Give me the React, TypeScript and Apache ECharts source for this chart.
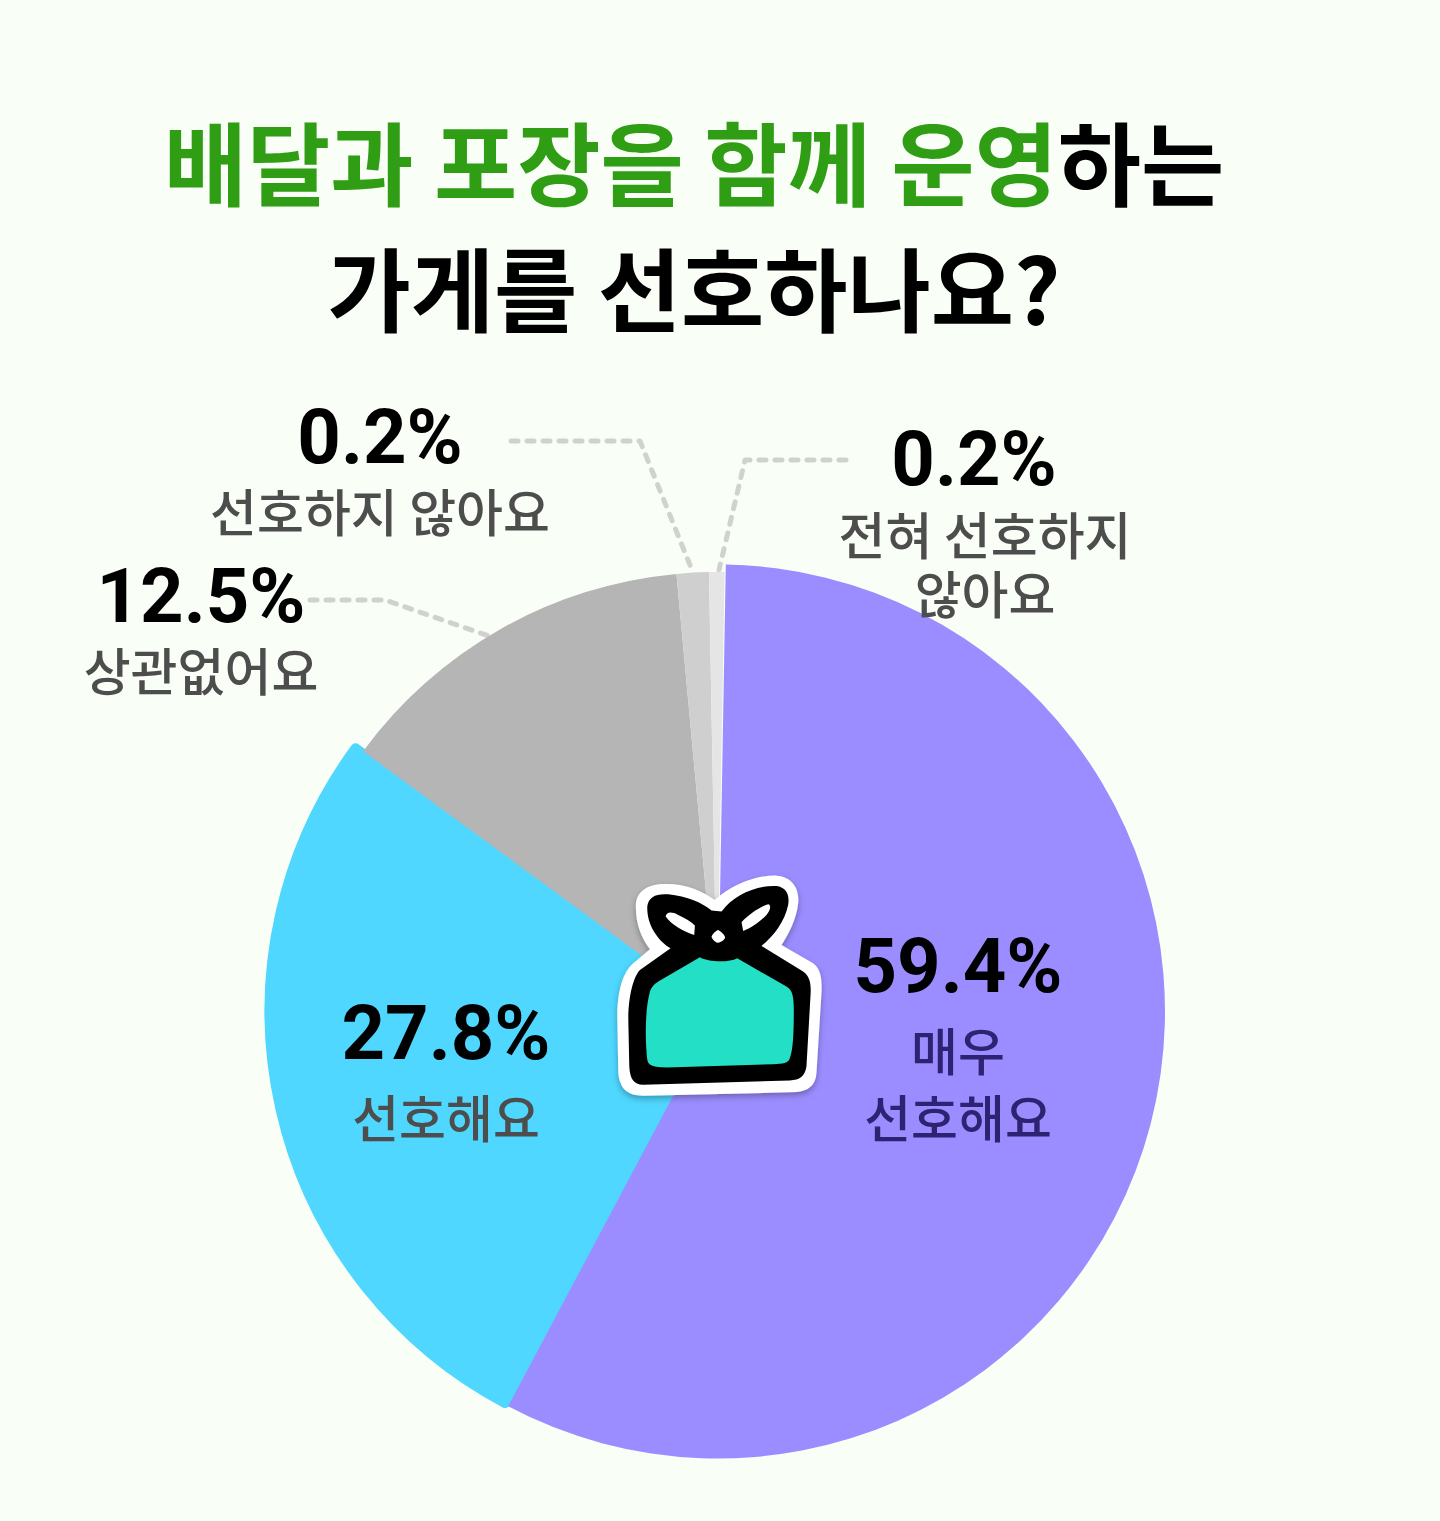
import React, { useEffect, useRef } from 'react';
import * as echarts from 'echarts';

// shares are read off the drawn slices, the printed percentages do not quite match them
const categories = ['매우\n선호해요', '선호해요', '상관없어요', '선호하지 않아요', '전혀 선호하지\n않아요'];
const percentLabels = ['59.4%', '27.8%', '12.5%', '0.2%', '0.2%'];
const sliceShares = [57.5, 27.3, 13.45, 1.18, 0.57];
const sliceColors = ['#9B8DFF', '#4FD7FF', '#B5B5B5', '#CFCFCF', '#E5E5E5'];

const FONT = '"Noto Sans CJK KR", sans-serif';
const NUM_FONT = 'Roboto, "Noto Sans CJK KR", sans-serif';
const LEADER = '#D0D2CC';

// each ring has a slightly different outline in the original, later rings paint over earlier ones
const rings = [
  { center: [713.5, 1011], r: 444, border: 10, items: [1] },
  { center: [717, 1011], r: 439, border: 0, items: [2, 3, 4] },
  { center: [718, 1011.5], r: 447, border: 0, items: [0] },
];

const labelSpots = [
  { x: 958, y: 930, first: 94, next: 40, shift: 0, nameColor: '#2E2273' },
  { x: 446, y: 997, first: 94, next: 40, shift: 0, nameColor: '#4D4D4D' },
  { x: 201, y: 560, first: 74, next: 40, shift: 0, nameColor: '#4D4D4D' },
  { x: 380, y: 401, first: 74, next: 40, shift: 0, nameColor: '#4D4D4D' },
  { x: 985, y: 423, first: 76, next: 42, shift: 22, nameColor: '#4D4D4D' },
];

const leaders = [
  [[511, 441], [640, 441], [692, 570]],
  [[846, 460], [745, 460], [719, 570]],
  [[310, 600], [385, 600], [489, 636]],
];

const ICON_WHITE = 'M345 120C395 75 470 45 530 47C580 50 600 90 595 130C590 180 565 225 545 255L640 310C660 325 668 350 665 400L650 640C648 680 620 695 590 697L130 708C85 708 60 690 55 640L52 470C52 390 70 335 100 310L150 268C125 235 105 190 108 130C112 90 150 70 200 72C260 72 310 95 345 120Z';
const ICON_BLACK = 'M335 152L365 155C400 105 470 75 530 78C560 82 570 105 565 135C555 185 520 230 485 258L610 335C630 350 635 370 632 410L620 620C615 650 600 660 570 662L130 675C100 675 90 655 88 620L85 480C85 410 100 350 120 330L212 265C170 240 140 190 142 140C145 110 170 100 205 103C260 108 310 130 335 152Z';
const ICON_TEAL = 'M300 292C320 305 385 310 412 295L560 380C578 390 582 410 582 450C582 520 580 570 570 595C565 610 550 612 520 613L200 623C160 622 145 618 142 600C135 540 135 450 150 395C155 380 165 372 175 365Z';
const ICON_HOLES = 'M197 170C200 155 215 155 235 165C255 175 275 185 285 197L283 225C250 215 215 195 197 170ZM425 187C445 165 480 140 505 133C515 135 512 150 500 165C480 185 455 205 430 213ZM355 210C365 215 378 228 375 235C370 245 355 250 350 248C340 242 335 235 335 230C338 222 348 212 355 210Z';

echarts.graphic.registerShape('iconWhite', echarts.graphic.extendPath(ICON_WHITE, {}) as any);
echarts.graphic.registerShape('iconBlack', echarts.graphic.extendPath(ICON_BLACK, {}) as any);
echarts.graphic.registerShape('iconTeal', echarts.graphic.extendPath(ICON_TEAL, {}) as any);
echarts.graphic.registerShape('iconHoles', echarts.graphic.extendPath(ICON_HOLES, {}) as any);

const App: React.FC = () => {
  const chartRef = useRef<HTMLDivElement>(null);

  useEffect(() => {
    if (!chartRef.current) return;
    const chart = echarts.init(chartRef.current, undefined, { renderer: 'svg' });

    const series = rings.map((ring) => ({
      type: 'pie',
      center: ring.center,
      radius: [0, ring.r],
      startAngle: 89,
      clockwise: true,
      silent: true,
      avoidLabelOverlap: false,
      labelLine: { show: false },
      labelLayout: (params: any) => {
        if (!ring.items.includes(params.dataIndex)) return {};
        const spot = labelSpots[params.dataIndex];
        return { x: spot.x, y: spot.y, align: 'center', verticalAlign: 'top' };
      },
      data: sliceShares.map((value, i) => {
        const own = ring.items.includes(i);
        const spot = labelSpots[i];
        const [line1, line2] = categories[i].split('\n');
        return {
          value,
          name: categories[i],
          itemStyle: own
            ? { color: sliceColors[i], borderWidth: ring.border, borderColor: sliceColors[i], borderJoin: 'round' }
            : { color: 'transparent', borderWidth: 0 },
          label: own
            ? {
                show: true,
                position: 'outside',
                formatter: `{pct|${percentLabels[i]}}\n{first|${line1}}` + (line2 ? `\n{next|${line2}}` : ''),
                rich: {
                  pct: {
                    fontFamily: NUM_FONT,
                    fontSize: 76,
                    fontWeight: 700,
                    color: '#000',
                    lineHeight: 72,
                    padding: [0, spot.shift, 0, 0],
                  },
                  first: { fontFamily: FONT, fontSize: 51, fontWeight: 500, color: spot.nameColor, lineHeight: spot.first },
                  next: { fontFamily: FONT, fontSize: 51, fontWeight: 500, color: spot.nameColor, lineHeight: spot.next },
                },
              }
            : { show: false },
        };
      }),
    }));

    const leaderLines = leaders.map((points) => ({
      type: 'polyline',
      z: 1,
      shape: { points },
      style: { fill: 'none', stroke: LEADER, lineWidth: 5, lineDash: [7, 9], lineCap: 'round', lineJoin: 'round' },
    }));

    const iconLayer = (type: string, fill: string, extra: object = {}) => ({
      type,
      x: 600,
      y: 860,
      scaleX: 1 / 3,
      scaleY: 1 / 3,
      z: 100,
      style: { fill, ...extra },
    });

    chart.setOption({
      animation: false,
      backgroundColor: '#F9FFF6',
      title: {
        left: 689,
        top: 91,
        textAlign: 'center',
        text: '{green|배달과 포장을 함께 운영}{black|하는}\n{black|가게를 선호하나요?}',
        textStyle: {
          rich: {
            green: { fontFamily: FONT, fontSize: 90.5, fontWeight: 700, color: '#2F9E14', lineHeight: 126 },
            black: { fontFamily: FONT, fontSize: 90.5, fontWeight: 700, color: '#000', lineHeight: 126 },
          },
        },
      },
      series,
      graphic: [
        ...leaderLines,
        iconLayer('iconWhite', '#fff', { shadowBlur: 6, shadowOffsetY: 3, shadowColor: 'rgba(0,0,0,0.3)' }),
        iconLayer('iconBlack', '#000'),
        iconLayer('iconTeal', '#22DFC5'),
        iconLayer('iconHoles', '#fff'),
      ],
    });

    return () => {
      chart.dispose();
    };
  }, []);

  return <div ref={chartRef} style={{ position: 'absolute', left: 0, top: 0, width: 1440, height: 1521 }} />;
};

export default App;
